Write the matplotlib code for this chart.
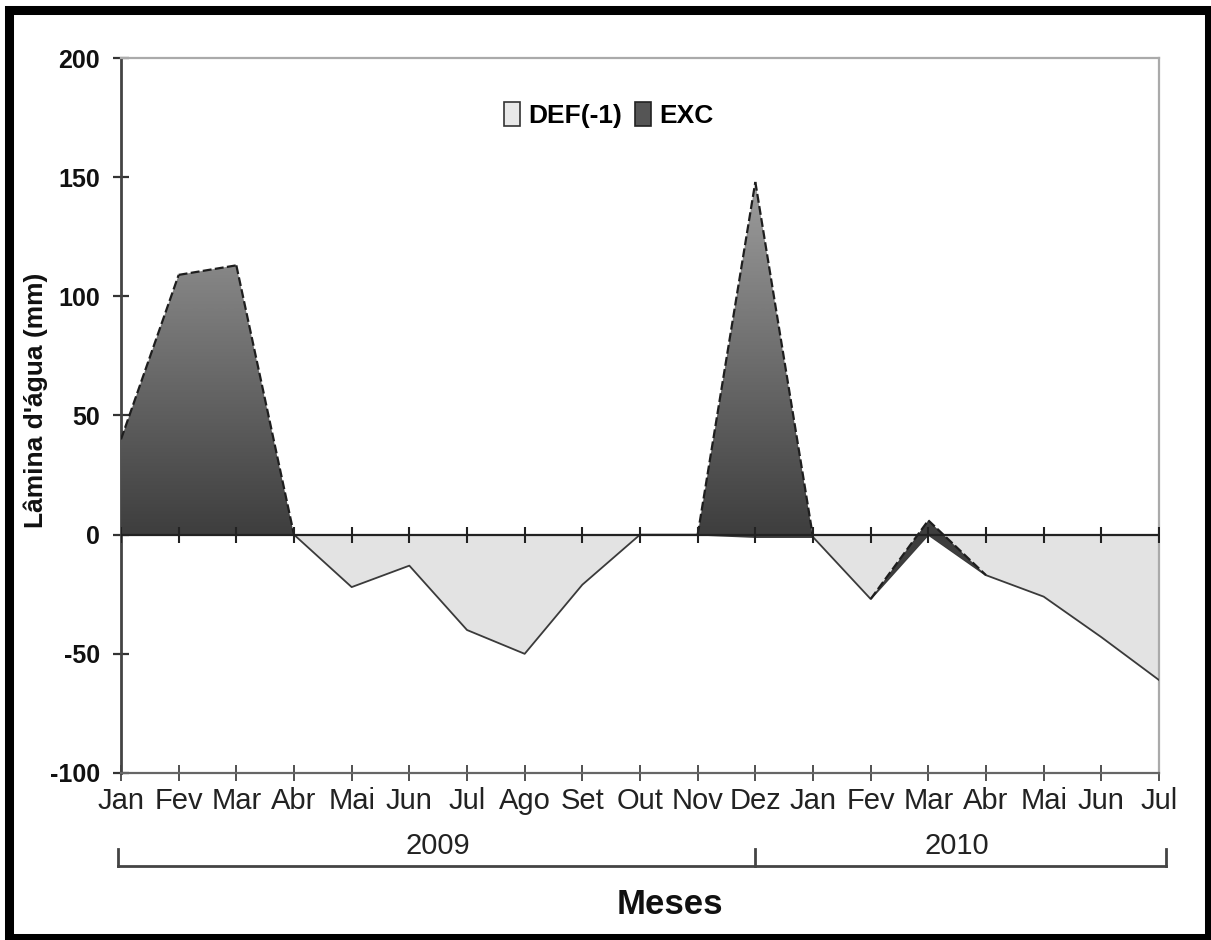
import numpy as np
import matplotlib
matplotlib.use("Agg")
import matplotlib.pyplot as plt
from matplotlib.colors import LinearSegmentedColormap
from matplotlib.patches import Patch, Rectangle
from matplotlib.lines import Line2D
import matplotlib.transforms as mtransforms

# ---------------- data ----------------
months = ["Jan", "Fev", "Mar", "Abr", "Mai", "Jun", "Jul", "Ago", "Set", "Out", "Nov", "Dez",
          "Jan", "Fev", "Mar", "Abr", "Mai", "Jun", "Jul"]
years = ["2009", "2010"]
year_bounds = [(0, 11), (11, 18)]
def_values = [0, 0, 0, 0, -22, -13, -40, -50, -21, 0, 0, -1, -1, -27, 0, -17, -26, -43, -61]
exc_values = [40, 109, 113, 0, 0, 0, 0, 0, 0, 0, 0, 149, 0, 0, 6, 0, 0, 0, 0]
yticks = [-100, -50, 0, 50, 100, 150, 200]

NARROW = ['Liberation Sans Narrow', 'Liberation Sans', 'DejaVu Sans']

x = np.arange(len(months))
d = np.array(def_values, dtype=float)
e = np.array(exc_values, dtype=float)
top = d + e

W, H = 1211, 940
fig = plt.figure(figsize=(W / 100, H / 100), dpi=100)
ax = fig.add_axes([121 / W, 1 - 773 / H, (1159 - 121) / W, (773 - 58) / H])
ax.set_xlim(0, 18)
ax.set_ylim(-100, 200)

# DEF area (light)
ax.fill_between(x, 0, d, facecolor='#e3e3e3', edgecolor='none', zorder=2)
ax.plot(x, d, color='#3a3a3a', lw=1.3, zorder=3)

# EXC area (stacked on DEF) with vertical gradient
poly = ax.fill_between(x, d, top, facecolor='none', edgecolor='none', zorder=4)
cmap = LinearSegmentedColormap.from_list('g', ['#3e3e3e', '#9e9e9e'])
yy = np.linspace(-30, 150, 256)
z = np.clip(yy / 150.0, 0, 1).reshape(-1, 1)
im = ax.imshow(z, extent=[0, 18, -30, 150], origin='lower', aspect='auto',
               cmap=cmap, vmin=0, vmax=1, zorder=4, interpolation='bilinear')
im.set_clip_path(poly.get_paths()[0], transform=ax.transData)
# outline of EXC only where it is positive
for i in range(len(x) - 1):
    if e[i] > 0 or e[i + 1] > 0:
        ax.plot(x[i:i + 2], top[i:i + 2], color='#1e1e1e', lw=1.6,
                ls=(0, (4, 1.5)), zorder=5)

# zero axis with crossing ticks
ax.axhline(0, color='#222222', lw=1.6, zorder=6)
ax.plot(x, np.zeros_like(x), ls='none', marker='|', ms=11, mew=1.5,
        color='#222222', zorder=6)

# spines
ax.spines['left'].set_color('#444444')
ax.spines['left'].set_linewidth(2)
for s in ['top', 'right']:
    ax.spines[s].set_color('#aaaaaa')
    ax.spines[s].set_linewidth(1.6)
ax.spines['bottom'].set_color('#666666')
ax.spines['bottom'].set_linewidth(1.6)

ax.set_yticks(yticks)
ax.set_yticklabels([str(v) for v in yticks], family=NARROW, fontweight='bold',
                   fontsize=18, color='#111111')
ax.tick_params(axis='y', direction='inout', length=12, width=1.6, color='#333333', pad=9)

ax.set_xticks(x)
ax.set_xticklabels(months, family=NARROW, fontsize=21, color='#222222')
ax.tick_params(axis='x', direction='inout', length=12, width=1.2, color='#333333', pad=4)

# year brackets
trans = mtransforms.blended_transform_factory(ax.transData, fig.transFigure)
yb = 1 - 866 / H
yt = 1 - 849 / H
xl, xr = -0.05, 18.13
ax.add_line(Line2D([xl, xr], [yb, yb], transform=trans, color='#444444', lw=2, clip_on=False))
for xv in [xl, year_bounds[0][1], xr]:
    ax.add_line(Line2D([xv, xv], [yb, yt], transform=trans, color='#444444', lw=2, clip_on=False))
for lab, (a, b) in zip(years, year_bounds):
    ax.text((a + b) / 2, 1 - 846 / H, lab, transform=trans, ha='center', va='center',
            family=NARROW, fontsize=21, color='#222222')

# axis titles
fig.text(670 / W, 1 - 905 / H, 'Meses', ha='center', va='center', family=NARROW,
         fontsize=25, fontweight='bold', color='#111111')
fig.text(36 / W, 1 - 400 / H, "Lâmina d'água (mm)", ha='center', va='center',
         rotation=90, family=NARROW, fontsize=19, fontweight='bold', color='#111111')

# legend
handles = [Patch(facecolor='#e8e8e8', edgecolor='#333333', lw=1.2, label='DEF(-1)'),
           Patch(facecolor='#555555', edgecolor='#222222', lw=1.2, label='EXC')]
leg = ax.legend(handles=handles, loc='center', bbox_to_anchor=(0.47, 0.92), ncol=2,
                frameon=False, handlelength=0.6, handleheight=1.0, handletextpad=0.3,
                columnspacing=0.5, prop={'family': NARROW, 'weight': 'bold', 'size': 19})

# outer black frame
fig.patches.append(Rectangle((8.5 / W, 1 - 938 / H), (1209 - 8.5) / W, (938 - 10) / H,
                             transform=fig.transFigure, fill=False, edgecolor='black',
                             lw=6.5, zorder=10))

fig.savefig('out.png', dpi=100, facecolor='white')
